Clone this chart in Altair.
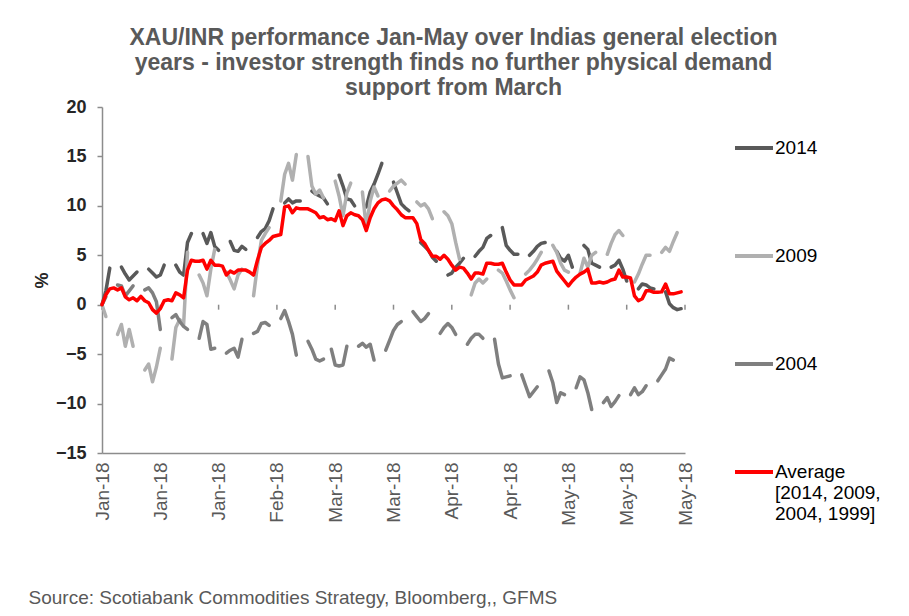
import datetime as dt
import altair as alt
import pandas as pd

N = None
FONT = "Liberation Sans, Arial, sans-serif"

SERIES = ["2014", "2009", "2004", "Average"]
COLORS = ["#595959", "#b0b0b0", "#7f7f7f", "#ff0000"]
LEGEND_LABEL_AVG = ["Average", "[2014, 2009,", "2004, 1999]"]
TICK_DATES = [(2018, 1, 1), (2018, 1, 16), (2018, 1, 31), (2018, 2, 15), (2018, 3, 2),
              (2018, 3, 17), (2018, 4, 1), (2018, 4, 16), (2018, 5, 1), (2018, 5, 16),
              (2018, 5, 31)]
TITLE = ["XAU/INR performance Jan-May over Indias general election",
         "years - investor strength finds no further physical demand",
         "support from March"]
SOURCE = "Source: Scotiabank Commodities Strategy, Bloomberg,, GFMS"

# daily values from 1 Jan (index 0) to 31 May (index 150); None = no trading day
Y2014 = [
    0, 1.4, 3.7, N, N, 3.8, 3.1,
    2.5, 2.9, 3.3, N, N, 3.6, 3.2,
    2.8, 3.0, 4.0, N, N, 4.0, 3.3,
    3.0, 6.3, 7.2, N, N, 7.2, 6.2,
    7.3, 5.9, 5.5, N, N, 6.4, 5.5,
    5.4, 5.9, 5.6, N, N, 6.8, 7.4,
    7.7, 8.5, 9.7, N, N, 10.3, 10.7,
    10.3, 10.5, 10.5, N, N, 11.5, 11.2,
    11.0, 10.8, 10.2, N, N, 13.1, 12.0,
    10.7, 10.6, 10.0, N, N, 9.9, 11.4,
    12.2, 13.2, 14.3, N, N, 12.4, 11.3,
    10.2, 9.8, 9.5, N, N, 6.3, 5.9,
    5.5, 4.8, 4.4, N, N, 3.0, 3.2,
    3.8, 4.2, 4.7, N, N, 4.9, 5.4,
    5.8, 6.7, 7.0, N, N, 7.8, 6.0,
    5.5, 5.1, 5.1, N, N, 5.0, 5.4,
    5.9, 6.2, 6.3, N, N, 5.4, 4.7,
    4.4, 5.0, 3.8, N, N, 6.0, 5.6,
    4.2, 4.0, 3.8, N, N, 3.8, 4.0,
    4.5, 3.6, 2.4, N, N, 1.6, 2.1,
    2.0, 1.7, 1.6, N, N, 1.3, 0.1,
    -0.3, -0.5, -0.4, N,
]
Y2009 = [
    0, -1.2, N, N, -3.0, -2.0, -4.2,
    -2.5, -4.2, N, N, -6.6, -6.0, -7.8,
    -6.3, -4.4, N, N, -5.5, -2.3, -1.5,
    -2.0, 5.3, N, N, 3.0, 2.2, 0.9,
    3.6, 5.6, N, N, 3.3, 2.5, 1.6,
    3.0, 3.6, N, N, 0.9, 4.0, 6.5,
    7.2, 7.8, N, N, 10.5, 13.2, 14.3,
    12.6, 15.2, N, N, 15.0, 12.0, 11.2,
    11.6, 10.8, N, N, 12.5, 11.0, 9.0,
    11.3, 12.3, N, N, 11.4, 7.8, 10.5,
    11.9, 11.0, N, N, 11.5, 12.0, 12.3,
    12.6, 12.2, N, N, 10.4, 10.0, 10.2,
    9.7, 8.7, N, N, 9.4, 9.0, 8.2,
    6.3, 4.6, N, N, 1.0, 2.2, 2.6,
    2.2, 2.6, N, N, 3.5, 3.2, 2.4,
    1.5, 0.7, N, N, 3.1, 3.5, 4.0,
    4.6, 5.3, N, N, 6.0, 5.3, 4.2,
    3.5, 3.3, N, N, 3.2, 4.7, 3.8,
    5.0, 5.3, N, N, 5.1, 6.2, 7.1,
    7.5, 7.0, N, N, 2.3, 3.1, 4.1,
    5.0, 5.0, N, N, 5.3, 5.8, 5.4,
    6.4, 7.3, N, N,
]
Y2004 = [
    0, 0.8, N, N, 2.0, 1.9, 0.9,
    1.4, 1.9, N, N, 1.5, 1.7, 1.2,
    0.3, -2.5, N, N, -1.3, -1.0, -1.7,
    -2.2, -2.5, N, N, -3.4, -1.7, -2.0,
    -4.5, -4.4, N, N, -4.9, -4.6, -4.4,
    -5.3, -3.5, N, N, -2.9, -2.7, -1.9,
    -1.8, -2.1, N, N, -1.4, -0.6, -1.7,
    -3.0, -5.1, N, N, -3.7, -4.5, -5.5,
    -5.7, -5.5, N, -4.5, -6.1, -6.2, -6.1,
    -4.2, N, N, -4.2, -3.9, -4.3, -4.0,
    -5.6, N, N, -4.6, -3.6, -2.6, -2.0,
    -1.7, N, N, -0.7, -1.2, -1.7, -1.4,
    -0.9, N, N, -2.9, -2.3, -1.9, -2.3,
    -3.0, N, N, -4.0, -3.4, -3.0, -3.0,
    -3.4, N, N, -3.5, -6.0, -7.4, -7.3,
    -7.2, N, N, -7.1, -8.2, -9.3, -8.8,
    -8.3, N, N, -6.7, -7.9, -9.9, -8.9,
    -9.1, N, N, -8.4, -7.3, -7.6, -8.9,
    -10.6, N, N, -9.9, -9.4, -10.3, -9.8,
    -9.2, N, N, -9.1, -8.4, -9.1, -8.8,
    -8.2, N, N, -7.7, -7.1, -6.5, -5.4,
    -5.6, N, N, N,
]
YAVG = [
    0, 1.0, 1.6, 1.7, 1.5, 1.7, 0.8,
    0.5, 0.7, 0.4, 0.85, 0.4, 0.2, -0.5,
    -0.85, -0.4, 0.4, 0.5, 0.4, 1.2, 1.0,
    0.7, 3.5, 4.5, 4.4, 4.4, 4.5, 3.6,
    4.5, 4.0, 4.0, 3.9, 3.0, 3.4, 3.2,
    3.5, 3.5, 3.5, 3.3, 3.0, 4.5, 5.8,
    6.2, 6.5, 6.9, 7.0, 7.1, 9.9, 10.0,
    9.3, 9.8, 9.7, 9.7, 9.7, 9.5, 9.3,
    8.8, 8.9, 8.6, 8.7, 8.5, 9.5, 8.0,
    9.0, 9.3, 9.1, 9.0, 8.6, 7.5, 8.8,
    9.7, 10.3, 10.6, 10.7, 10.5, 10.0, 9.6,
    9.1, 8.8, 8.8, 8.8, 8.2, 6.6, 6.2,
    5.5, 4.9, 4.9, 4.6, 5.0, 4.6, 4.0,
    3.5, 3.8, 3.7, 3.2, 2.6, 3.2, 3.2,
    3.1, 4.2, 4.2, 4.1, 4.1, 4.2, 3.3,
    2.5, 2.0, 2.0, 2.0, 2.5, 2.7, 2.9,
    3.3, 4.0, 4.2, 4.3, 4.4, 3.4, 2.9,
    2.4, 1.9, 2.4, 2.8, 3.1, 3.3, 3.6,
    2.2, 2.2, 2.3, 2.2, 2.3, 2.5, 2.6,
    3.5, 2.8, 2.8, 2.7, 0.9, 0.4, 0.6,
    1.4, 1.4, 1.25, 1.25, 1.3, 2.1, 1.1,
    1.1, 1.2, 1.3, N,
]

START = dt.date(2018, 1, 1)
rows = []
for name, vals in zip(SERIES, [Y2014, Y2009, Y2004, YAVG]):
    seg, gap = 0, True
    for i, v in enumerate(vals):
        if v is None:
            gap = True
            continue
        if gap:
            seg += 1
            gap = False
        rows.append({"date": (START + dt.timedelta(days=i)).isoformat(),
                     "value": v, "series": name, "seg": f"{name}-{seg}"})
df = pd.DataFrame(rows)
ticks_df = pd.DataFrame({"date": [dt.date(*t).isoformat() for t in TICK_DATES]})

x_scale = alt.Scale(type="utc", domain=[alt.DateTime(year=2018, month=1, date=1, utc=True),
                                        alt.DateTime(year=2018, month=5, date=31, utc=True)])
y_scale = alt.Scale(domain=[-15, 20], nice=False, zero=False)

x_axis = alt.Axis(values=[alt.DateTime(year=y, month=m, date=d, utc=True) for y, m, d in TICK_DATES],
                  format="%b-%y", labelAngle=270, labelFontSize=19, labelFont=FONT,
                  labelColor="#595959", labelPadding=9, labelFlush=False, labelOverlap=False,
                  ticks=False, grid=False, domainColor="#8c8c8c", domainWidth=1.5,
                  title=SOURCE, titleX=-74, titleY=150, titleAlign="left",
                  titleBaseline="alphabetic", titleAngle=0, titleFont=FONT,
                  titleFontSize=19, titleFontWeight="normal", titleColor="#595959")
y_axis = alt.Axis(values=list(range(-15, 21, 5)), labelFontSize=18, labelFontWeight="bold",
                  labelFont=FONT, labelColor="#262626", tickSize=5, tickColor="#8c8c8c",
                  tickWidth=1.5, domainColor="#8c8c8c", domainWidth=1.5, gridColor="#a6a6a6",
                  gridWidth=1.3, labelPadding=11, title="%", titleFont=FONT, titleFontSize=18,
                  titleFontWeight="bold", titleColor="#262626", titleX=-51, titleY=173,
                  titleAngle=270, titleBaseline="bottom", titleAlign="center")

legend = alt.Legend(
    title=None, orient="none", legendX=631, legendY=20, symbolType="stroke",
    symbolSize=1444, symbolStrokeWidth=4, labelFont=FONT, labelFontSize=19,
    labelColor="#000000", labelOffset=0, labelLimit=300, rowPadding=35,
    labelExpr="datum.label == 'Average' ? ['" + "', '".join(LEGEND_LABEL_AVG)
              + "'] : [datum.label, '', '']",
)

color = alt.Color("series:N", scale=alt.Scale(domain=SERIES, range=COLORS), legend=legend)

layers = []
for name in SERIES:
    layers.append(
        alt.Chart(df[df.series == name]).mark_line(strokeWidth=3.5, strokeCap="round",
                                                   strokeJoin="round").encode(
            x=alt.X("date:T", scale=x_scale, axis=x_axis),
            y=alt.Y("value:Q", scale=y_scale, axis=y_axis),
            color=color,
            detail="seg:N",
        )
    )

zero_ticks = alt.Chart(ticks_df).mark_rule(color="#8c8c8c", strokeWidth=1.5).encode(
    x=alt.X("date:T", scale=x_scale),
    y=alt.datum(0),
    y2=alt.datum(-0.5),
)

chart = alt.layer(zero_ticks, *layers).properties(
    width=583, height=346,
    autosize=alt.AutoSizeParams(type="none"),
    padding={"left": 94, "top": 99, "right": 216, "bottom": 155},
    title=alt.Title(TITLE, fontSize=23, fontWeight="bold", color="#595959", font=FONT,
                    anchor="middle", dx=60, dy=6, lineHeight=25),
).configure_view(strokeWidth=0)

chart.save("out.html", embed_options={"renderer": "svg", "actions": False})
